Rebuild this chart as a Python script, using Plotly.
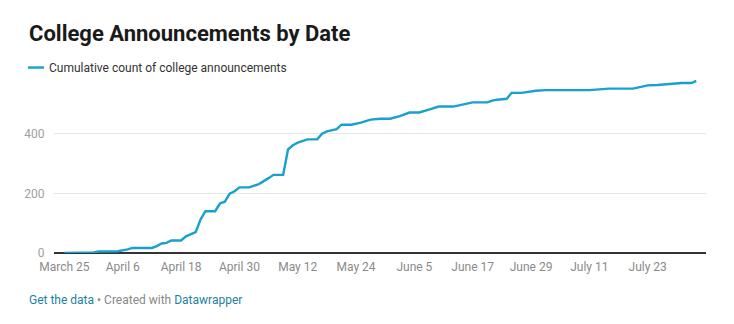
import plotly.graph_objects as go
import pandas as pd

# ---- data ----
dates = [
    "2020-03-25", "2020-03-28", "2020-03-31", "2020-04-01", "2020-04-05", "2020-04-07",
    "2020-04-08", "2020-04-12", "2020-04-13", "2020-04-14", "2020-04-15", "2020-04-16",
    "2020-04-18", "2020-04-19", "2020-04-21", "2020-04-22", "2020-04-23", "2020-04-25",
    "2020-04-26", "2020-04-27", "2020-04-28", "2020-04-29", "2020-04-30", "2020-05-02",
    "2020-05-04", "2020-05-06", "2020-05-07", "2020-05-09", "2020-05-10", "2020-05-11",
    "2020-05-12", "2020-05-14", "2020-05-16", "2020-05-17", "2020-05-18", "2020-05-20",
    "2020-05-21", "2020-05-23", "2020-05-25", "2020-05-27", "2020-05-29", "2020-05-31",
    "2020-06-02", "2020-06-04", "2020-06-06", "2020-06-08", "2020-06-10", "2020-06-13",
    "2020-06-15", "2020-06-17", "2020-06-20", "2020-06-21", "2020-06-22", "2020-06-24",
    "2020-06-25", "2020-06-27", "2020-06-30", "2020-07-02", "2020-07-11", "2020-07-13",
    "2020-07-15", "2020-07-20", "2020-07-23", "2020-07-25", "2020-07-27", "2020-07-30",
    "2020-08-01", "2020-08-02",
]
cumulative = [
    0, 1, 2, 5, 6, 12,
    17, 17, 23, 32, 34, 42,
    42, 56, 70, 112, 140, 140,
    166, 172, 199, 207, 220, 220,
    231, 251, 262, 262, 347, 361,
    370, 381, 381, 400, 408, 415,
    430, 430, 437, 447, 450, 450,
    459, 471, 471, 481, 491, 491,
    498, 505, 505, 511, 514, 517,
    537, 537, 544, 546, 546, 549,
    551, 551, 562, 563, 566, 570,
    570, 577,
]
series_name = "Cumulative count of college announcements"
title_text = "College Announcements by Date"
x_tick_dates = ["2020-03-25", "2020-04-06", "2020-04-18", "2020-04-30", "2020-05-12",
                "2020-05-24", "2020-06-05", "2020-06-17", "2020-06-29", "2020-07-11",
                "2020-07-23"]
x_tick_labels = ["March 25", "April 6", "April 18", "April 30", "May 12", "May 24",
                 "June 5", "June 17", "June 29", "July 11", "July 23"]
y_tick_vals = [0, 200, 400]

# ---- style ----
W, H = 734, 324
L, R, T, B = 54, 28, 80, 70.5
pw, ph = W - L - R, H - T - B
LINE = "#18a1cd"
FONT = "Roboto"


def px(x):
    return (x - L) / pw


def py(y):
    return (H - B - y) / ph


fig = go.Figure()
fig.add_trace(go.Scatter(
    x=pd.to_datetime(dates), y=cumulative, mode="lines", name=series_name,
    line=dict(color=LINE, width=2.4), showlegend=False,
    hovertemplate="%{x|%B %d}: %{y}<extra></extra>",
))

x0 = pd.Timestamp("2020-03-25") - pd.Timedelta(days=2.15)
x1 = pd.Timestamp("2020-03-25") + pd.Timedelta(days=132)

fig.update_layout(
    width=W, height=H,
    margin=dict(l=L, r=R, t=T, b=B, pad=0),
    paper_bgcolor="white", plot_bgcolor="white",
    font=dict(family=FONT, size=12, color="#888888"),
    xaxis=dict(
        range=[x0, x1], tickmode="array",
        tickvals=pd.to_datetime(x_tick_dates), ticktext=x_tick_labels,
        showgrid=False, zeroline=False, showline=False,
        ticks="outside", ticklen=3, tickcolor="rgba(0,0,0,0)",
        tickfont=dict(family=FONT, size=12, color="#8a8a8a"),
        fixedrange=True,
    ),
    yaxis=dict(
        range=[0, 580], tickmode="array", tickvals=y_tick_vals,
        showgrid=True, gridcolor="#e6e6e6", gridwidth=1,
        zeroline=True, zerolinecolor="#333333", zerolinewidth=1.5,
        showline=False, ticks="outside", ticklen=6, tickcolor="rgba(0,0,0,0)",
        tickfont=dict(family=FONT, size=12, color="#a0a0a0"),
        fixedrange=True,
    ),
    annotations=[
        dict(text="<b>" + title_text + "</b>", xref="paper", yref="paper",
             x=px(27), y=py(33.5), xanchor="left", yanchor="middle", showarrow=False,
             font=dict(family=FONT, size=22, color="#1a1a1a")),
        dict(text=series_name, xref="paper", yref="paper",
             x=px(47), y=py(67.5), xanchor="left", yanchor="middle", showarrow=False,
             font=dict(family=FONT, size=12, color="#333333")),
        dict(text="<span style='color:#1d81a2'>Get the data</span> • Created with "
                  "<span style='color:#1d81a2'>Datawrapper</span>",
             xref="paper", yref="paper",
             x=px(27), y=py(301), xanchor="left", yanchor="middle", showarrow=False,
             font=dict(family=FONT, size=12, color="#888888")),
    ],
    shapes=[
        dict(type="line", xref="paper", yref="paper",
             x0=px(28), x1=px(44), y0=py(67.5), y1=py(67.5),
             line=dict(color=LINE, width=2.4)),
    ],
)

fig.write_html("out.html")
